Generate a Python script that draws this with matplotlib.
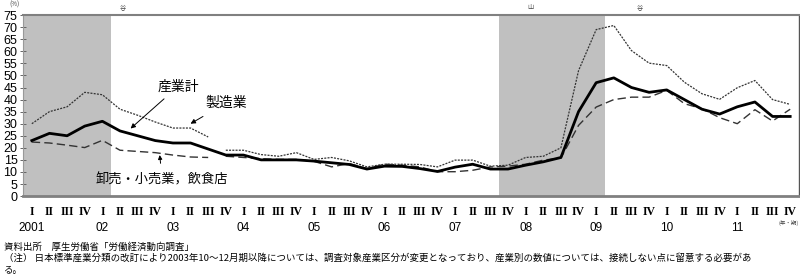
import numpy as np
import matplotlib
matplotlib.use("Agg")
import matplotlib.pyplot as plt
from matplotlib import transforms

JP = ["Noto Sans CJK JP", "DejaVu Sans"]
GRAY = "#C0C0C0"

# quarters 2001 I .. 2011 IV
roman = ["I", "II", "III", "IV"] * 11
years = ["2001", "02", "03", "04", "05", "06", "07", "08", "09", "10", "11"]

# 産業計 (continuous)
sangyo = [23, 26, 25, 29, 31, 27, 25, 23, 22, 22,
          19.5, 17, 17, 15, 15, 15, 14.5, 13.8, 13.1, 11.2,
          12.4, 12.3, 11.4, 10.2, 12, 13.2, 11.2, 11.2, 12.8, 14.2,
          16, 35, 47, 49, 45, 43, 44, 40, 36, 34,
          37, 39, 33, 33]
# 製造業: before / after the 2003 IV classification change
seizo_old = [30, 35, 37, 43, 42, 36, 33.5, 30.7, 28.2, 28.2, 24.5]
seizo_new = [19, 19, 17.2, 16.5, 18, 15.2, 16, 14.6, 12.1, 13.2,
             13.2, 13.1, 12.1, 14.9, 14.9, 12.4, 12.8, 16, 16.5, 20,
             52, 69, 70.7, 60.3, 55.1, 54.1, 47.2, 42.4, 40.1, 44.9,
             47.9, 40, 38]
# 卸売・小売業，飲食店
oroshi_old = [22.4, 22, 21.1, 20.1, 23.1, 19, 18.5, 18, 17, 16.2, 16]
oroshi_new = [16.5, 16, 15.5, 15.2, 15.2, 14.4, 12.1, 13.5, 11.4, 13.2,
              12.8, 12.1, 10.1, 10.1, 10.7, 12.1, 12.4, 13.2, 14.9, 15.8,
              29.3, 36.9, 40, 41, 41, 43.8, 38.3, 36.2, 32.5, 30,
              35.8, 31.1, 36]

# recession periods (quarter index bounds)
recessions = [(-0.5, 4.5), (26.5, 32.5)]

n = len(sangyo)
x = np.arange(n)
n_old = len(seizo_old)
x_old = x[:n_old]
x_new = x[n_old:]

fig = plt.figure(figsize=(8, 2.75), dpi=100)
ax = fig.add_axes([0.02875, 0.287, 0.97, 0.658])

for a, b in recessions:
    ax.axvspan(a, b, color=GRAY, lw=0, zorder=0)

dot = (0, (1.6, 1.0))
dash = (0, (6, 3))
ax.plot(x_old, seizo_old, color="#333333", lw=0.9, ls=dot)
ax.plot(x_new, seizo_new, color="#333333", lw=0.9, ls=dot)
ax.plot(x_old, oroshi_old, color="#333333", lw=1.0, ls=dash)
ax.plot(x_new, oroshi_new, color="#333333", lw=1.0, ls=dash)
ax.plot(x, sangyo, color="black", lw=2.0)

ax.set_xlim(-0.5, n - 0.5)
ax.set_ylim(0, 75)
ax.set_yticks(range(0, 80, 5))
ax.tick_params(axis="y", direction="inout", length=4, width=0.7,
               color="#666666", pad=2, labelsize=9)
for lab in ax.get_yticklabels():
    lab.set_family("Liberation Sans")

ax.set_xticks(x)
ax.set_xticklabels(roman, family="Liberation Serif", fontsize=8.5,
                   fontweight="bold")
ax.tick_params(axis="x", length=0, pad=7)

trans = transforms.blended_transform_factory(ax.transData, ax.transAxes)
for k, yr in enumerate(years):
    ax.text(4 * k, -0.177, yr, transform=trans, ha="center", va="center",
            fontsize=8.5, family="Liberation Sans")

ax.spines["bottom"].set_color("#808080")
ax.spines["bottom"].set_linewidth(2)
ax.spines["top"].set_color("#808080")
ax.spines["top"].set_linewidth(1.5)
ax.spines["left"].set_color("#999999")
ax.spines["left"].set_linewidth(0.8)
ax.spines["right"].set_color("#555555")
ax.spines["right"].set_linewidth(1)

# series labels with arrows
ax.annotate("産業計", xy=(5.6, 28), xytext=(8.3, 45.5), family=JP,
            fontsize=10, ha="center", va="center",
            arrowprops=dict(arrowstyle="-|>", color="black", lw=0.7,
                            mutation_scale=7, shrinkA=3, shrinkB=0))
ax.annotate("製造業", xy=(9.0, 30), xytext=(11.0, 38.5), family=JP,
            fontsize=10, ha="center", va="center",
            arrowprops=dict(arrowstyle="-|>", color="black", lw=0.7,
                            mutation_scale=7, shrinkA=5, shrinkB=0))
ax.annotate("卸売・小売業，飲食店", xy=(7.25, 17), xytext=(7.4, 6.8), family=JP,
            fontsize=9.5, ha="center", va="center",
            arrowprops=dict(arrowstyle="-|>", color="black", lw=0.7,
                            mutation_scale=6, shrinkA=5, shrinkB=0))

# turning point marks above the plot
ax.text(5.15, 1.045, "谷", transform=trans, ha="center", va="center",
        fontsize=4.5, family=JP, color="#444444")
ax.text(28.3, 1.045, "山", transform=trans, ha="center", va="center",
        fontsize=4.5, family=JP, color="#444444")
ax.text(34.5, 1.045, "谷", transform=trans, ha="center", va="center",
        fontsize=4.5, family=JP, color="#444444")

fig.text(0.012, 0.982, "(%)", fontsize=4.5, family=JP, color="#444444",
         va="center")
fig.text(0.998, 0.19, "(年・期)", fontsize=4, family=JP, color="#444444",
         ha="right", va="center")

fig.text(0.005, 0.102, "資料出所　厚生労働省「労働経済動向調査」", fontsize=6.8,
         family=JP, va="center")
fig.text(0.005, 0.062,
         "（注） 日本標準産業分類の改訂により2003年10～12月期以降については、"
         "調査対象産業区分が変更となっており、産業別の数値については、"
         "接続しない点に留意する必要があ",
         fontsize=6.8, family=JP, va="center")
fig.text(0.005, 0.018, "る。", fontsize=6.8, family=JP, va="center")

fig.savefig("out.png", dpi=100)
